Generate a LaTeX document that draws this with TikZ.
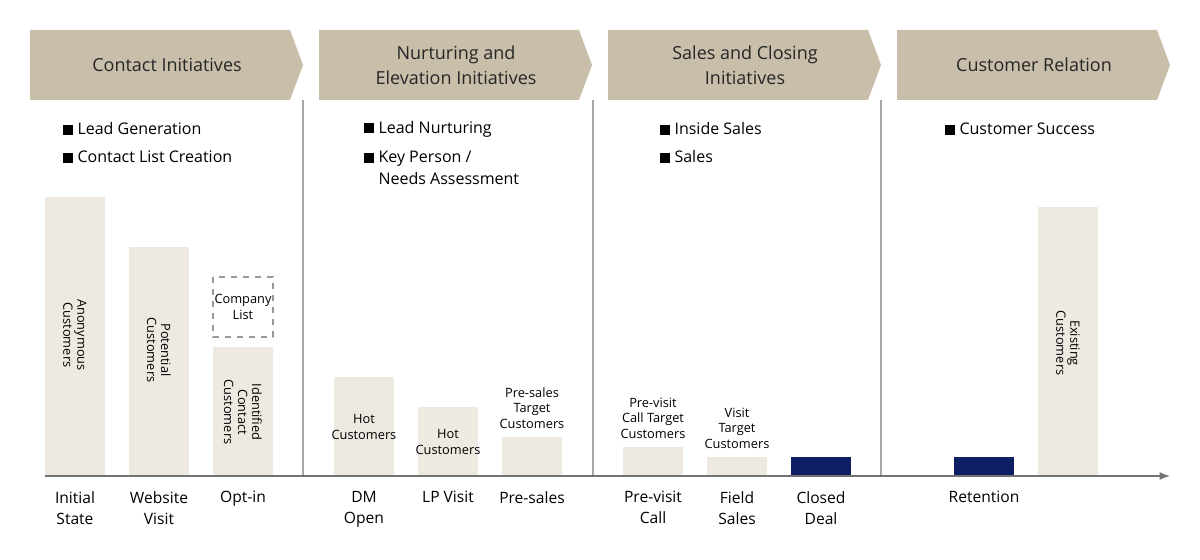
\documentclass[tikz,border=0pt]{standalone}
\usepackage{fontspec}
\setmainfont{Open Sans}
\begin{document}
\begin{tikzpicture}[x=0.5pt,y=-0.5pt,
 banner/.style={fill=banc,draw=none},
 bar/.style={fill=barc,draw=none},
 dark/.style={fill=navyc,draw=none},
 vt/.style={rotate=-90,align=center,font=\fontsize{6.4}{7}\selectfont,inner sep=0pt},
 ht/.style={align=center,font=\fontsize{6.4}{7.8}\selectfont,inner sep=0pt},
 bt/.style={align=center,font=\fontsize{7.8}{10.5}\selectfont,inner sep=0pt},
 bl/.style={anchor=west,align=left,font=\fontsize{8}{11}\selectfont,inner sep=0pt},
 tt/.style={align=center,font=\fontsize{9}{12.5}\selectfont,inner sep=0pt,text=black!85}]
\definecolor{banc}{HTML}{C8BEAA}
\definecolor{barc}{HTML}{EEEAE2}
\definecolor{navyc}{HTML}{0D1F62}
\useasboundingbox (0,0) rectangle (1200,560);
% banners
\foreach \a/\n in {30/b1,319/b2,608/b3,897/b4}{
  \fill[banc] (\a,30) -- ++(260,0) -- ++(13,35) -- ++(-13,35) -- ++(-260,0) -- cycle;
  \coordinate (\n) at (\a+137,65);
}
\node[tt] (t1) at (b1) {Contact Initiatives};
\node[tt] (t2) at (b2) {Nurturing and\\Elevation Initiatives};
\node[tt] (t3) at (b3) {Sales and Closing\\Initiatives};
\node[tt] (t4) at (b4) {Customer Relation};
% dividers
\foreach \x in {303,593,881} \draw[gray!70,line width=0.6pt] (\x,100) -- (\x,476);
% bullets
\node[bl] (l1) at (63,129) {\rule{5pt}{5pt} Lead Generation};
\node[bl] (l2) at (63,157) {\rule{5pt}{5pt} Contact List Creation};
\node[bl] (l3) at (364,129) {\rule{5pt}{5pt} Lead Nurturing};
\node[bl] (l4) at (364,168) {\rule{5pt}{5pt} Key Person /\\\hphantom{\rule{5pt}{5pt} }Needs Assessment};
\node[bl] (l5) at (660,129) {\rule{5pt}{5pt} Inside Sales};
\node[bl] (l6) at (660,157) {\rule{5pt}{5pt} Sales};
\node[bl] (l7) at (945,129) {\rule{5pt}{5pt} Customer Success};
% bars
\fill[bar] (45,197) rectangle (105,476);
\fill[bar] (129,247) rectangle (189,476);
\fill[bar] (213,347) rectangle (273,476);
\draw[gray!80,dashed,line width=0.6pt] (213,277) rectangle (273,337);
\fill[bar] (334,377) rectangle (394,476);
\fill[bar] (418,407) rectangle (478,476);
\fill[bar] (502,437) rectangle (562,476);
\fill[bar] (623,447) rectangle (683,476);
\fill[bar] (707,457) rectangle (767,476);
\fill[navyc] (791,457) rectangle (851,476);
\fill[navyc] (954,457) rectangle (1014,476);
\fill[bar] (1038,207) rectangle (1098,476);
% in-bar texts
\node[vt] (v1) at (75,335) {Anonymous\\Customers};
\node[vt] (v2) at (159,350) {Potential\\Customers};
\node[vt] (v3) at (243,412) {Identified\\Contact\\Customers};
\node[ht] (cl) at (243,307) {Company\\List};
\node[vt] (v4) at (1068,343) {Existing\\Customers};
\node[ht] (h1) at (364,427) {Hot\\Customers};
\node[ht] (h2) at (448,442) {Hot\\Customers};
\node[ht] (h3) at (532,408) {Pre-sales\\Target\\Customers};
\node[ht] (h4) at (653,418) {Pre-visit\\Call Target\\Customers};
\node[ht] (h5) at (737,428) {Visit\\Target\\Customers};
% axis
\coordinate (ax0) at (45,476);
\coordinate (ax1) at (1170,476);
\draw[gray!90!black,line width=0.8pt,-latex] (ax0) -- (ax1);
% bottom labels
\node[bt,anchor=north] (x1) at (75,491) {Initial\\State};
\node[bt,anchor=north] (x2) at (159,491) {Website\\Visit};
\node[bt,anchor=north] (x3) at (243,491) {Opt-in};
\node[bt,anchor=north] (x4) at (364,491) {DM\\Open};
\node[bt,anchor=north] (x5) at (448,491) {LP Visit};
\node[bt,anchor=north] (x6) at (532,491) {Pre-sales};
\node[bt,anchor=north] (x7) at (653,491) {Pre-visit\\Call};
\node[bt,anchor=north] (x8) at (737,491) {Field\\Sales};
\node[bt,anchor=north] (x9) at (821,491) {Closed\\Deal};
\node[bt,anchor=north] (x10) at (984,491) {Retention};
\end{tikzpicture}
\end{document}
